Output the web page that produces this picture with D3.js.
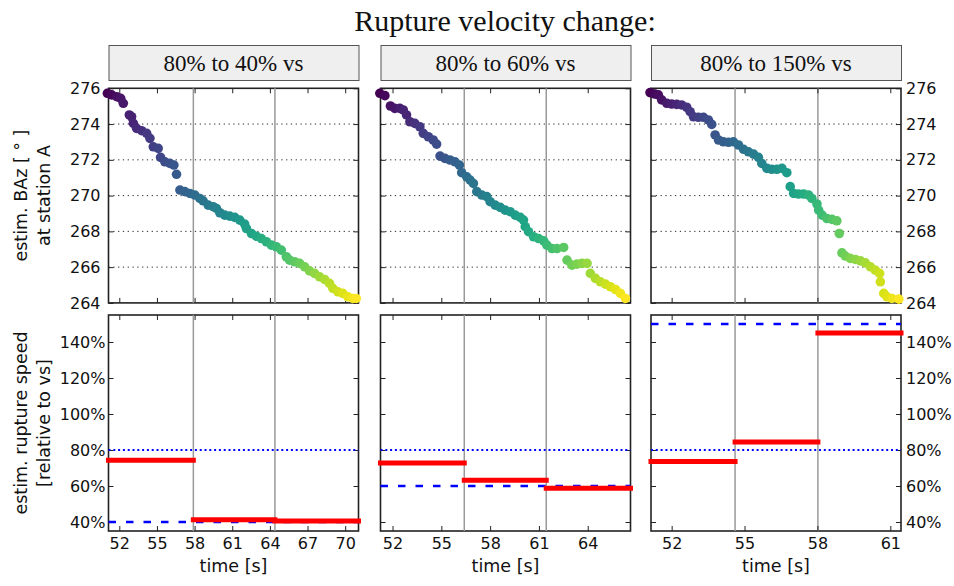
<!DOCTYPE html>
<meta charset="utf-8">
<style>

body { margin: 0; background: #fff; }
svg { display: block; }

.tick text {
  font-family: "DejaVu Sans", sans-serif;
  font-size: 16px;
  fill: #111;
}

.tick line {
  stroke: #222;
  stroke-width: 1px;
}

.frame {
  fill: none;
  stroke: #222;
  stroke-width: 1.6px;
}

.grid line {
  stroke: #222;
  stroke-width: 1px;
  stroke-dasharray: 1.2, 3.6;
}

.vline {
  stroke: #999;
  stroke-width: 1.5px;
}

.header rect {
  fill: #efefef;
  stroke: #555;
  stroke-width: 1px;
}

.serif {
  font-family: "Liberation Serif", "Times New Roman", serif;
  fill: #111;
}

.label {
  font-family: "DejaVu Sans", sans-serif;
  font-size: 17.5px;
  fill: #111;
}

</style>
<svg width="954" height="586"></svg>
<script src="https://d3js.org/d3.v7.min.js"></script>
<script>

var title = "Rupture velocity change:";
var panelTitles = ["80% to 40% vs", "80% to 60% vs", "80% to 150% vs"];

// time axis limits [s] and tick labels for each column
var xDomains = [[51.14, 71.06], [51.26, 66.63], [51.15, 61.44]];
var xTicks = [[52, 55, 58, 61, 64, 67, 70], [52, 55, 58, 61, 64], [52, 55, 58, 61]];

var bazTicks = [264, 266, 268, 270, 272, 274, 276];
var speedTicks = [40, 60, 80, 100, 120, 140];

// estimated back azimuth at station A, read off the scatter tracks
var timeA = [51.05, 51.39, 51.79, 52.11, 52.32, 52.80, 52.98, 53.12, 53.38, 53.78, 54.18, 54.44, 54.71, 55.10, 55.29, 55.63, 56.03, 56.35, 56.56,
  56.83, 57.22, 57.62, 58.02, 58.42, 58.68, 59.08, 59.48, 59.74, 60.01, 60.40, 60.80, 61.20, 61.60, 61.99, 62.13, 62.53, 62.92, 63.32, 63.72,
  64.12, 64.51, 64.91, 65.31, 65.57, 65.97, 66.37, 66.77, 67.16, 67.56, 67.96, 68.36, 68.75, 69.02, 69.42, 69.81, 70.21, 70.61, 70.88];
var bazA = [275.72, 275.63, 275.53, 275.44, 275.16, 274.51, 274.41, 274.04, 273.76, 273.63, 273.48, 273.20, 272.73, 272.64, 272.14, 271.89, 271.80, 271.71, 271.19,
  270.31, 270.22, 270.12, 270.03, 269.84, 269.71, 269.47, 269.38, 269.28, 269.04, 268.91, 268.85, 268.78, 268.63, 268.41, 268.16, 267.88, 267.73, 267.60, 267.42,
  267.23, 267.14, 266.95, 266.58, 266.39, 266.30, 266.21, 266.02, 265.79, 265.65, 265.46, 265.31, 265.09, 264.81, 264.62, 264.53, 264.34, 264.25, 264.25];

var timeB = [51.22, 51.53, 51.87, 52.14, 52.45, 52.66, 52.86, 53.07, 53.37, 53.68, 53.89, 54.20, 54.50, 54.71, 54.92, 55.22, 55.53, 55.84, 56.11,
  56.25, 56.56, 56.77, 56.97, 57.18, 57.49, 57.79, 58.00, 58.31, 58.62, 58.92, 59.23, 59.54, 59.85, 60.05, 60.16, 60.36, 60.67, 60.98, 61.29,
  61.49, 61.80, 62.11, 62.52, 62.73, 63.03, 63.34, 63.65, 63.96, 64.16, 64.47, 64.78, 65.09, 65.40, 65.71, 66.01, 66.32];
var bazB = [275.72, 275.59, 275.01, 274.88, 274.88, 274.79, 274.51, 274.13, 274.04, 273.85, 273.48, 273.29, 273.11, 272.88, 272.21, 272.08, 271.99, 271.89, 271.71,
  271.28, 271.05, 270.87, 270.68, 270.22, 270.03, 269.94, 269.66, 269.47, 269.34, 269.19, 269.10, 268.91, 268.78, 268.63, 268.26, 267.98, 267.70, 267.60, 267.47,
  267.23, 267.04, 267.04, 267.10, 266.39, 266.11, 266.17, 266.21, 266.21, 265.65, 265.37, 265.18, 265.05, 264.90, 264.75, 264.53, 264.25];

var timeC = [51.11, 51.31, 51.45, 51.59, 51.80, 52.00, 52.21, 52.41, 52.62, 52.76, 52.90, 53.10, 53.31, 53.51, 53.65, 53.79, 53.93, 54.13, 54.34,
  54.54, 54.75, 54.96, 55.16, 55.37, 55.57, 55.71, 55.92, 56.12, 56.33, 56.54, 56.74, 56.88, 57.02, 57.22, 57.43, 57.64, 57.77, 57.98, 58.05,
  58.19, 58.39, 58.60, 58.80, 58.90, 59.01, 59.15, 59.35, 59.56, 59.77, 59.97, 60.18, 60.38, 60.56, 60.59, 60.73, 60.86, 61.07, 61.35];
var bazC = [275.76, 275.68, 275.63, 275.35, 275.16, 275.12, 275.10, 275.07, 274.94, 274.69, 274.41, 274.38, 274.38, 274.23, 273.98, 273.39, 273.11, 273.01, 272.98,
  273.01, 272.83, 272.59, 272.45, 272.32, 272.14, 271.80, 271.52, 271.47, 271.47, 271.52, 271.28, 270.50, 270.12, 270.09, 270.09, 270.03, 269.84, 269.53, 269.19,
  268.91, 268.72, 268.67, 268.59, 267.88, 266.80, 266.62, 266.49, 266.43, 266.35, 266.24, 266.02, 265.83, 265.65, 265.18, 264.53, 264.34, 264.25, 264.21];

// estimated rupture speed per time window [% of vs]
var initialSpeed = 80;
var targetSpeeds = [40, 60, 150];
var breaksA = [57.90, 64.40], speedsA = [74.3, 41.3, 40.5];
var breaksB = [56.41, 61.45], speedsB = [72.8, 63.2, 58.7];
var breaksC = [54.61, 58.02], speedsC = [73.6, 84.4, 145.0];

var panels = [
  { time: timeA, baz: bazA, breaks: breaksA, speeds: speedsA },
  { time: timeB, baz: bazB, breaks: breaksB, speeds: speedsB },
  { time: timeC, baz: bazC, breaks: breaksC, speeds: speedsC }
];

var svg = d3.select("svg");

var lefts = [108.5, 380.5, 651],
    pw = 250,
    topY = 88.3, topH = 214.6,
    botY = 315, botH = 216;

var yBaz = d3.scaleLinear().domain([264, 276]).range([topY + topH, topY]);
var ySpeed = d3.scaleLinear().domain([35, 155]).range([botY + botH, botY]);

svg.append("text")
    .attr("class", "serif")
    .attr("x", 505)
    .attr("y", 31)
    .attr("text-anchor", "middle")
    .style("font-size", "30px")
    .text(title);

panels.forEach(function(p, i) {
  var x0 = lefts[i];
  var x = d3.scaleLinear().domain(xDomains[i]).range([x0, x0 + pw]);
  var first = i === 0, last = i === panels.length - 1;

  // header box
  var h = svg.append("g").attr("class", "header");
  h.append("rect")
      .attr("x", x0 + 0.5).attr("y", 45.5)
      .attr("width", pw).attr("height", 35);
  h.append("text")
      .attr("class", "serif")
      .attr("x", x0 + pw / 2).attr("y", 71)
      .attr("text-anchor", "middle")
      .style("font-size", "23px")
      .text(panelTitles[i]);

  [[yBaz, topY, topH, bazTicks, false], [ySpeed, botY, botH, speedTicks, true]].forEach(function(row) {
    var y = row[0], ry = row[1], rh = row[2], yt = row[3], isBottom = row[4];
    var g = svg.append("g");

    g.append("rect").attr("class", "frame")
        .attr("x", x0).attr("y", ry).attr("width", pw).attr("height", rh);

    if (!isBottom) {
      g.append("g").attr("class", "grid")
        .selectAll("line")
        .data(yt.filter(function(d) { return d > 264 && d < 276; }))
        .enter().append("line")
          .attr("x1", x0).attr("x2", x0 + pw)
          .attr("y1", function(d) { return y(d); })
          .attr("y2", function(d) { return y(d); });
    }

    g.selectAll(".vline")
      .data(p.breaks)
      .enter().append("line")
        .attr("class", "vline")
        .attr("x1", function(d) { return x(d); })
        .attr("x2", function(d) { return x(d); })
        .attr("y1", ry).attr("y2", ry + rh);

    // axes with inward ticks
    g.append("g").attr("transform", "translate(0," + (ry + rh) + ")")
        .call(d3.axisBottom(x).tickValues(xTicks[i]).tickSize(-5).tickSizeOuter(0).tickPadding(7)
          .tickFormat(isBottom ? d3.format("d") : ""));
    g.append("g").attr("transform", "translate(0," + ry + ")")
        .call(d3.axisTop(x).tickValues(xTicks[i]).tickSize(-5).tickSizeOuter(0).tickFormat(""));
    var fmt = isBottom ? function(d) { return d + "%"; } : d3.format("d");
    g.append("g").attr("transform", "translate(" + x0 + ",0)")
        .call(d3.axisLeft(y).tickValues(yt).tickSize(-5).tickSizeOuter(0).tickPadding(isBottom ? 3 : 8)
          .tickFormat(first ? fmt : ""));
    g.append("g").attr("transform", "translate(" + (x0 + pw) + ",0)")
        .call(d3.axisRight(y).tickValues(yt).tickSize(-5).tickSizeOuter(0).tickPadding(5)
          .tickFormat(last ? fmt : ""));
    g.selectAll(".domain").remove();

    if (!isBottom) {
      var pts = p.time.map(function(t, k) { return [t, p.baz[k]]; });
      var c = d3.scaleSequential(d3.interpolateViridis).domain(d3.extent(p.time));
      g.append("g").selectAll("circle")
        .data(pts)
        .enter().append("circle")
          .attr("cx", function(d) { return x(d[0]); })
          .attr("cy", function(d) { return y(d[1]); })
          .attr("r", 4.8)
          .attr("fill", function(d) { return c(d[0]); });
    } else {
      g.append("line")
          .attr("x1", x0).attr("x2", x0 + pw)
          .attr("y1", y(initialSpeed)).attr("y2", y(initialSpeed))
          .attr("stroke", "#0000ff").attr("stroke-width", 2)
          .attr("stroke-dasharray", "2,2.8");
      g.append("line")
          .attr("x1", x0).attr("x2", x0 + pw)
          .attr("y1", y(targetSpeeds[i])).attr("y2", y(targetSpeeds[i]))
          .attr("stroke", "#0000ff").attr("stroke-width", 2.5)
          .attr("stroke-dasharray", "7.5,10");
      var edges = [xDomains[i][0]].concat(p.breaks, [xDomains[i][1]]);
      g.selectAll(".seg")
        .data(p.speeds)
        .enter().append("line")
          .attr("x1", function(d, k) { return x(edges[k]); })
          .attr("x2", function(d, k) { return x(edges[k + 1]); })
          .attr("y1", function(d) { return y(d); })
          .attr("y2", function(d) { return y(d); })
          .attr("stroke", "#ff0000").attr("stroke-width", 5)
          .attr("stroke-linecap", "square");

      g.append("text").attr("class", "label")
          .attr("x", x0 + pw / 2).attr("y", 572)
          .attr("text-anchor", "middle")
          .text("time [s]");
    }
  });
});

// y axis labels
[["estim. BAz [ ° ]", "at station A", topY + topH / 2],
 ["estim. rupture speed", "[relative to vs]", botY + botH / 2]].forEach(function(l) {
  var t = svg.append("text").attr("class", "label")
      .attr("transform", "translate(0," + l[2] + ") rotate(-90)")
      .attr("text-anchor", "middle");
  t.append("tspan").attr("x", 0).attr("y", 27).text(l[0]);
  t.append("tspan").attr("x", 0).attr("y", 50).text(l[1]);
});

</script>
